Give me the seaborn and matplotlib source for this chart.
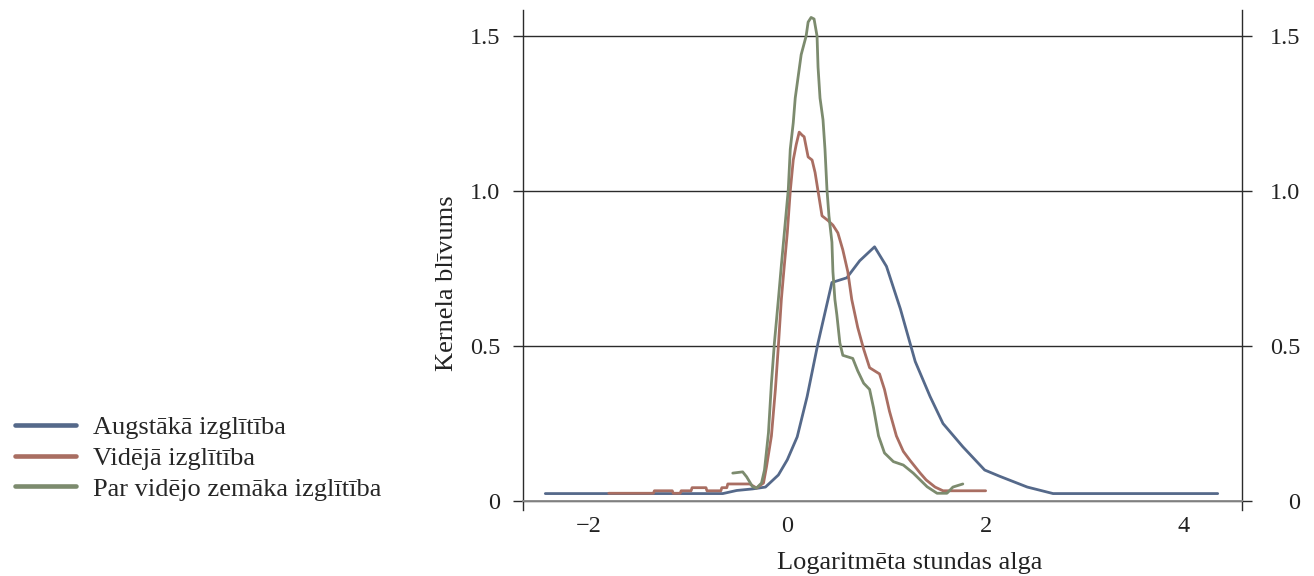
import numpy as np
import pandas as pd
import matplotlib
matplotlib.use("Agg")
import matplotlib.pyplot as plt
import matplotlib.transforms as mtrans
from matplotlib.lines import Line2D
import seaborn as sns

# ---------------- data ----------------
series_names = ["Augstākā izglītība", "Vidējā izglītība", "Par vidējo zemāka izglītība"]

aug_x = [-2.44, -0.65, -0.51, -0.35, -0.22, -0.09, 0.00, 0.10, 0.20, 0.31, 0.45, 0.60,
         0.73, 0.88, 1.00, 1.14, 1.29, 1.44, 1.57, 1.77, 1.99, 2.14, 2.42, 2.68, 4.34]
aug_y = [0.024, 0.024, 0.034, 0.039, 0.045, 0.084, 0.133, 0.207, 0.337, 0.51, 0.705, 0.72,
         0.775, 0.82, 0.757, 0.62, 0.45, 0.337, 0.25, 0.175, 0.10, 0.08, 0.045, 0.024, 0.024]

vid_x = [-1.80, -1.35, -1.34, -1.16, -1.15, -1.08, -1.07, -0.97, -0.96, -0.82, -0.81, -0.67,
         -0.66, -0.61, -0.60, -0.38, -0.31, -0.24, -0.21, -0.16, -0.12, -0.09, -0.06, -0.03,
         0.00, 0.03, 0.06, 0.09, 0.12, 0.15, 0.17, 0.21, 0.25, 0.28, 0.31, 0.35, 0.41, 0.46,
         0.51, 0.56, 0.61, 0.65, 0.71, 0.77, 0.83, 0.93, 0.98, 1.03, 1.10, 1.17, 1.24, 1.34,
         1.40, 1.49, 1.57, 2.00]
vid_y = [0.025, 0.025, 0.033, 0.033, 0.025, 0.025, 0.033, 0.033, 0.043, 0.043, 0.033, 0.033,
         0.043, 0.043, 0.055, 0.055, 0.042, 0.058, 0.11, 0.21, 0.36, 0.50, 0.65, 0.76,
         0.865, 1.00, 1.10, 1.15, 1.19, 1.18, 1.175, 1.11, 1.10, 1.06, 1.00, 0.92, 0.905, 0.89,
         0.865, 0.81, 0.74, 0.65, 0.56, 0.49, 0.43, 0.41, 0.36, 0.29, 0.21, 0.16, 0.13, 0.09,
         0.068, 0.045, 0.033, 0.033]

zem_x = [-0.55, -0.45, -0.41, -0.35, -0.31, -0.26, -0.23, -0.19, -0.16, -0.13, -0.09, -0.06,
         -0.03, 0.01, 0.03, 0.06, 0.08, 0.11, 0.14, 0.19, 0.21, 0.24, 0.27, 0.30, 0.31, 0.33,
         0.36, 0.38, 0.40, 0.42, 0.45, 0.46, 0.48, 0.50, 0.53, 0.56, 0.66, 0.71, 0.77, 0.83,
         0.87, 0.92, 0.98, 1.07, 1.17, 1.27, 1.41, 1.51, 1.61, 1.67, 1.77]
zem_y = [0.09, 0.094, 0.078, 0.046, 0.042, 0.058, 0.10, 0.22, 0.38, 0.51, 0.65, 0.76,
         0.865, 1.005, 1.135, 1.22, 1.30, 1.37, 1.44, 1.50, 1.545, 1.56, 1.555, 1.50, 1.40, 1.30,
         1.23, 1.135, 1.005, 0.92, 0.835, 0.74, 0.65, 0.60, 0.51, 0.47, 0.46, 0.42, 0.38, 0.36,
         0.30, 0.21, 0.155, 0.127, 0.116, 0.09, 0.046, 0.025, 0.025, 0.045, 0.055]

y_ticks = [0, 0.5, 1.0, 1.5]
y_tick_labels = ["0", "0.5", "1.0", "1.5"]
x_ticks = [-2, 0, 2, 4]
x_tick_labels = ["−2", "0", "2", "4"]
x_label = "Logaritmēta stundas alga"
y_label = "Kernela blīvums"
colors = ["#55698a", "#a96e62", "#7c8b6e"]

# ---------------- build table ----------------
frames = []
for name, xs, ys in zip(series_names, [aug_x, vid_x, zem_x], [aug_y, vid_y, zem_y]):
    frames.append(pd.DataFrame({"x": xs, "y": ys, "grupa": name}))
df = pd.concat(frames, ignore_index=True)

# ---------------- style ----------------
sns.set_theme(style="white")
plt.rcParams["font.family"] = ["Liberation Serif", "DejaVu Serif"]
plt.rcParams["axes.unicode_minus"] = True

W, H = 1314, 576
fig = plt.figure(figsize=(W / 100, H / 100), dpi=100)
L, R, T, B = 523, 1242, 10, 510
ax = fig.add_axes([L / W, 1 - B / H, (R - L) / W, (B - T) / H])

sns.lineplot(data=df, x="x", y="y", hue="grupa", hue_order=series_names,
             palette=colors, estimator=None, sort=False,
             linewidth=2.0, legend=False, ax=ax)

ax.set_xlim(-2.665, 4.585)
ax.set_ylim(-0.029, 1.584)

dark = "#2b2b2b"
gray = "#8a8a8a"
txt = "#222222"

ax.set_yticks(y_ticks)
ax.set_yticklabels(y_tick_labels)
ax.set_xticks(x_ticks)
ax.set_xticklabels(x_tick_labels)

ax.grid(axis="y", color=dark, linewidth=1.0)
ax.grid(axis="x", visible=False)
ax.set_axisbelow(True)

ax.spines["top"].set_visible(False)
for s in ["left", "right"]:
    ax.spines[s].set_color(dark)
    ax.spines[s].set_linewidth(1.0)
ax.spines["bottom"].set_position(("data", 0))
ax.spines["bottom"].set_color(gray)
ax.spines["bottom"].set_linewidth(1.3)

ax.tick_params(axis="x", direction="out", length=6.5, width=1.0, color=gray,
               labelsize=17.5, pad=4, labelcolor=txt)
ax.tick_params(axis="y", left=True, right=True, labelleft=True, labelright=True,
               direction="out", length=7.2, width=1.0, color=dark,
               labelsize=17.5, labelcolor=txt, pad=9)

# right-side tick labels are right-aligned in the reference
for t in ax.yaxis.get_major_ticks():
    t.label2.set_horizontalalignment("right")
    t.label2.set_transform(t.label2.get_transform()
                           + mtrans.ScaledTranslation(36 / 100, 0, fig.dpi_scale_trans))

ax.set_xlabel(x_label, fontsize=19, color=txt)
ax.set_ylabel(y_label, fontsize=19, color=txt)
ax.xaxis.set_label_coords(0.538, -0.083)
ax.yaxis.set_label_coords(-0.09, 0.454)

handles = [Line2D([0], [0], color=c, linewidth=3.3) for c in colors]
fig.legend(handles, series_names, loc="center left", bbox_to_anchor=(15 / W, 1 - 458 / H),
           frameon=False, fontsize=19, handlelength=2.3, handletextpad=0.65,
           labelspacing=0.28, borderpad=0, borderaxespad=0)

fig.savefig("out.png", dpi=100)
